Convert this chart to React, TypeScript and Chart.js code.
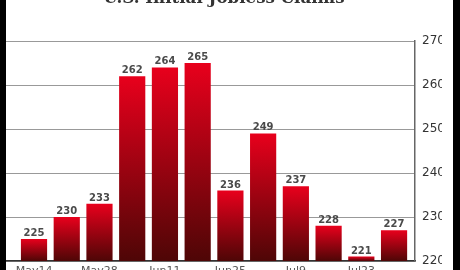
import React, { useEffect, useRef } from "react";
import { Chart, registerables } from "chart.js";

Chart.register(...registerables);

const weekLabels = ["May14", "May21", "May28", "Jun4", "Jun11", "Jun18", "Jun25", "Jul2", "Jul9", "Jul16", "Jul23", "Jul30"];
const claims = [225, 230, 233, 262, 264, 265, 236, 249, 237, 228, 221, 227];
const labelIndices = [0, 2, 4, 6, 8, 10];
const yTicks = [220, 230, 240, 250, 260, 270];
const titleText = "U.S. Initial Jobless Claims";

const Y_MIN = 220;
const Y_MAX = 270;

const valueLabels = {
  id: "valueLabels",
  afterDatasetsDraw(chart: any) {
    const c = chart.ctx;
    const meta = chart.getDatasetMeta(0);
    c.save();
    c.font = "bold 10px 'DejaVu Sans'";
    c.fillStyle = "#4a4a4a";
    c.textAlign = "center";
    c.textBaseline = "alphabetic";
    meta.data.forEach((el: any, i: number) => {
      c.fillText(String(claims[i]), el.x, el.y - 3);
    });
    c.restore();
  },
};

export default function App() {
  const ref = useRef<HTMLCanvasElement | null>(null);

  useEffect(() => {
    document.documentElement.style.background = "#000";
    document.documentElement.style.overflow = "hidden";
    document.body.style.margin = "0";
    document.body.style.background = "#000";
    document.body.style.overflow = "hidden";
    if (!ref.current) return;
    const chart = new Chart(ref.current, {
      type: "bar",
      data: {
        datasets: [
          {
            data: claims.map((v, i) => ({ x: i, y: v })),
            barPercentage: 0.8,
            categoryPercentage: 1,
            backgroundColor: (ctx: any) => {
              const ch = ctx.chart;
              const ys = ch.scales && ch.scales.y;
              if (!ch.chartArea || !ys || ctx.type !== "data") return "#b00010";
              const top = ys.getPixelForValue(ctx.parsed.y);
              const bottom = ys.getPixelForValue(Y_MIN);
              if (!isFinite(top) || !isFinite(bottom) || bottom - top < 1) return "#d00018";
              const g = ch.ctx.createLinearGradient(0, top, 0, bottom);
              g.addColorStop(0, "#e8001c");
              g.addColorStop(1, "#4e0606");
              return g;
            },
          },
        ],
      },
      options: {
        animation: false,
        responsive: false,
        maintainAspectRatio: false,
        layout: { padding: { left: 0, right: 11, top: 0, bottom: 0 } },
        plugins: {
          legend: { display: false },
          tooltip: { enabled: false },
          title: {
            display: true,
            text: titleText,
            color: "#333",
            font: { family: "'DejaVu Serif'", size: 16.7, weight: "bold" },
            padding: { top: 0, bottom: 32 },
          },
        },
        scales: {
          x: {
            type: "linear",
            offset: false,
            min: -0.856,
            max: 11.64,
            afterBuildTicks: (scale: any) => {
              scale.ticks = labelIndices.map((v) => ({ value: v }));
            },
            afterFit: (scale: any) => {
              scale.height = 20;
            },
            ticks: {
              autoSkip: false,
              maxRotation: 0,
              padding: 4,
              color: "#555",
              font: { family: "'DejaVu Sans'", size: 11 },
              callback: (v: any) => weekLabels[Number(v)] ?? "",
            },
            grid: { display: false, drawTicks: false },
            border: { display: true, color: "#333", width: 1.5 },
          },
          y: {
            position: "right",
            min: Y_MIN,
            max: Y_MAX,
            afterBuildTicks: (scale: any) => {
              scale.ticks = yTicks.map((v) => ({ value: v }));
            },
            afterFit: (scale: any) => {
              scale.width = 27;
            },
            ticks: {
              padding: 7,
              color: "#333",
              font: { family: "'DejaVu Sans'", size: 12 },
            },
            grid: { color: "#999", lineWidth: 1, drawTicks: false },
            border: { display: true, color: "#666", width: 1.5 },
          },
        },
      },
      plugins: [valueLabels],
    } as any);
    return () => chart.destroy();
  }, []);

  return (
    <div
      style={{
        position: "fixed",
        left: 6,
        top: -11,
        width: 447,
        height: 292,
        background: "#fff",
        overflow: "hidden",
      }}
    >
      <canvas ref={ref} width={447} height={292} style={{ display: "block" }} />
    </div>
  );
}
